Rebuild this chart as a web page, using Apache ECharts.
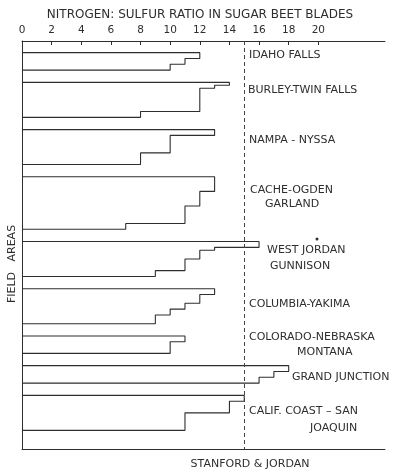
<!DOCTYPE html>
<html>
<head>
<meta charset="utf-8">
<script src="https://cdn.jsdelivr.net/npm/echarts@6/dist/echarts.min.js"></script>
<style>
  html, body { margin: 0; padding: 0; background: #fff; }
  #chart { width: 393px; height: 471px; }
</style>
</head>
<body>
<div id="chart"></div>
<script>
// N:S ratio of each field, top row first, one entry per field
const xTicks = [0, 2, 4, 6, 8, 10, 12, 14, 16, 18, 20];
const idahoFalls = [12, 12, 11, 11, 10, 10];
const burleyTwinFalls = [14, 13, 12, 12, 12, 12, 12, 12, 12, 12, 8, 8];
const nampaNyssa = [13, 13, 10, 10, 10, 10, 10, 10, 8, 8, 8, 8];
const cacheOgdenGarland = [13, 13, 13, 13, 13, 12, 12, 12, 12, 12, 11, 11, 11, 11, 11, 11, 7, 7];
const westJordanGunnison = [16, 16, 13, 12, 12, 12, 11, 11, 11, 11, 9, 9];
const columbiaYakima = [13, 13, 12, 12, 12, 11, 11, 10, 10, 9, 9, 9];
const coloradoNebraskaMontana = [11, 11, 10, 10, 10, 10];
const grandJunction = [18, 18, 17, 17, 16, 16];
const califCoastSanJoaquin = [15, 15, 14, 14, 14, 14, 11, 11, 11, 11, 11, 11];
const criticalRatio = 15;

const groups = [idahoFalls, burleyTwinFalls, nampaNyssa, cacheOgdenGarland, westJordanGunnison,
  columbiaYakima, coloradoNebraskaMontana, grandJunction, califCoastSanJoaquin];

const ink = "#2e2e2e";
const font = '"DejaVu Sans", sans-serif';

// stepped outline of each group, in field-row units down the y axis
var series = [];
var rowStart = 4;
groups.forEach(function (vals, g) {
  var pts = [[0, rowStart]];
  vals.forEach(function (v, i) {
    pts.push([v, rowStart + i]);
    pts.push([v, rowStart + i + 1]);
  });
  pts.push([0, rowStart + vals.length]);
  var s = {
    type: "line",
    data: pts,
    showSymbol: false,
    silent: true,
    lineStyle: { color: ink, width: 1.1 },
  };
  if (g === 0) {
    s.markLine = {
      silent: true,
      symbol: ["none", "none"],
      label: { show: false },
      lineStyle: { color: "#444", width: 1, type: [4, 3] },
      data: [{ xAxis: criticalRatio }],
    };
  }
  series.push(s);
  rowStart += vals.length + 4.2;
});

function txt(text, x, y, align, size) {
  return {
    type: "text",
    x: x,
    y: y,
    silent: true,
    style: {
      text: text,
      font: (size || 11) + "px " + font,
      fill: ink,
      textAlign: align || "left",
      textVerticalAlign: "middle",
    },
  };
}

var chartDom = document.getElementById("chart");
var myChart = echarts.init(chartDom);
var option = {
  backgroundColor: "#fff",
  animation: false,
  grid: { left: 22, right: 8, top: 41, bottom: 22 },
  xAxis: [
    {
      type: "value",
      position: "top",
      min: 0,
      max: 24.5,
      interval: 2,
      axisLine: { show: true, lineStyle: { color: ink, width: 1 } },
      axisTick: { show: true, inside: true, length: 4, customValues: xTicks, lineStyle: { color: ink } },
      axisLabel: {
        customValues: xTicks,
        margin: 5,
        color: ink,
        fontSize: 10.5,
        fontFamily: font,
        formatter: function (v) { return v <= 20 ? String(v) : ""; },
      },
      splitLine: { show: false },
    },
    {
      type: "value",
      position: "bottom",
      min: 0,
      max: 24.5,
      axisLine: { show: true, lineStyle: { color: ink, width: 1 } },
      axisTick: { show: false },
      axisLabel: { show: false },
      splitLine: { show: false },
    },
  ],
  yAxis: {
    type: "value",
    inverse: true,
    min: 0,
    max: 140,
    axisLine: { show: true, lineStyle: { color: ink, width: 1 } },
    axisTick: { show: false },
    axisLabel: { show: false },
    splitLine: { show: false },
  },
  graphic: [
    txt("NITROGEN: SULFUR RATIO IN SUGAR BEET BLADES", 200, 15, "center", 12),
    txt("IDAHO FALLS", 249, 55),
    txt("BURLEY-TWIN FALLS", 248, 90),
    txt("NAMPA - NYSSA", 249, 140),
    txt("CACHE-OGDEN", 250, 190),
    txt("GARLAND", 265, 204),
    txt("WEST JORDAN", 267, 250),
    txt("GUNNISON", 270, 266),
    txt("COLUMBIA-YAKIMA", 249, 304),
    txt("COLORADO-NEBRASKA", 249, 337),
    txt("MONTANA", 297, 352),
    txt("GRAND JUNCTION", 292, 377),
    txt("CALIF. COAST – SAN", 249, 411),
    txt("JOAQUIN", 310, 428),
    txt("STANFORD & JORDAN", 250, 464, "center"),
    {
      type: "text",
      x: 12,
      y: 264,
      rotation: Math.PI / 2,
      silent: true,
      style: {
        text: "FIELD   AREAS",
        font: "11px " + font,
        fill: ink,
        textAlign: "center",
        textVerticalAlign: "middle",
      },
    },
    { type: "circle", shape: { cx: 317, cy: 239, r: 1.5 }, style: { fill: ink }, silent: true },
  ],
  series: series,
};
option && myChart.setOption(option, true);
</script>
</body>
</html>
